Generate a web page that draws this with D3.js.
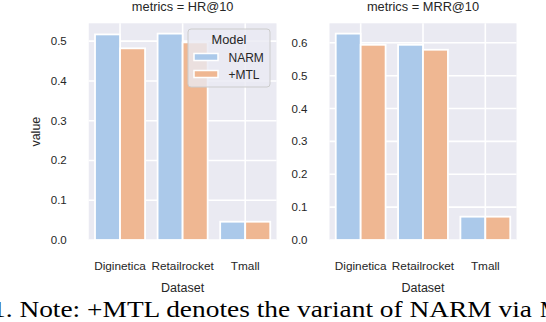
<!DOCTYPE html>
<html>
<head>
<meta charset="utf-8">
<script src="https://cdnjs.cloudflare.com/ajax/libs/d3/7.8.5/d3.min.js"></script>
<style>
body { margin: 0; background: #fff; }
text { font-family: "Liberation Sans", Arial, sans-serif; fill: #262626; }
</style>
</head>
<body>
<div id="chart"></div>
<script>
var datasets = ["Diginetica", "Retailrocket", "Tmall"];
var models = ["NARM", "+MTL"];
var metricNames = ["HR@10", "MRR@10"];
var hrNARM = [0.517, 0.519, 0.046];
var hrMTL = [0.482, 0.497, 0.046];
var mrrNARM = [0.628, 0.594, 0.071];
var mrrMTL = [0.594, 0.579, 0.071];
var hrTicks = [0, 0.1, 0.2, 0.3, 0.4, 0.5];
var mrrTicks = [0, 0.1, 0.2, 0.3, 0.4, 0.5, 0.6];
var colors = ["#abc9ea", "#efb792"];

var svg = d3.select("#chart")
  .append("svg")
    .attr("width", 546)
    .attr("height", 322);

var panels = [
	{ name: metricNames[0], series: [hrNARM, hrMTL], ticks: hrTicks, x0: 88.75, x1: 276.5, ylabel: true },
	{ name: metricNames[1], series: [mrrNARM, mrrMTL], ticks: mrrTicks, x0: 329.5, x1: 516.5, ylabel: false }
];
var plotTop = 23.3, plotBottom = 240;

panels.forEach(function(p) {
	var ymax = d3.max(p.series, function(s) { return d3.max(s); }) * 1.05;
	var x = d3.scaleBand().domain(datasets).range([p.x0, p.x1]).padding(0);
	var inner = d3.scaleBand().domain(models)
	    .range([0, x.bandwidth() * 0.8]);
	var y = d3.scaleLinear().domain([0, ymax]).range([plotBottom, plotTop]);

	var g = svg.append("g");
	g.append("rect")
	    .attr("x", p.x0)
	    .attr("y", plotTop)
	    .attr("width", p.x1 - p.x0)
	    .attr("height", plotBottom - plotTop)
	    .style("fill", "#eaeaf2");

	//grid
	g.selectAll(".hgrid")
	    .data(p.ticks)
	  .enter().append("line")
	    .attr("x1", p.x0)
	    .attr("x2", p.x1)
	    .attr("y1", function(d) { return y(d); })
	    .attr("y2", function(d) { return y(d); })
	    .style("stroke", "#fff")
	    .style("stroke-width", "1.6px");
	g.selectAll(".vgrid")
	    .data(datasets)
	  .enter().append("line")
	    .attr("x1", function(d) { return x(d) + x.bandwidth() / 2; })
	    .attr("x2", function(d) { return x(d) + x.bandwidth() / 2; })
	    .attr("y1", plotTop)
	    .attr("y2", plotBottom)
	    .style("stroke", "#fff")
	    .style("stroke-width", "1.6px");

	//bars
	models.forEach(function(m, mi) {
		g.selectAll(".bar" + mi)
		    .data(p.series[mi])
		  .enter().append("rect")
		    .attr("x", function(d, i) { return x(datasets[i]) + x.bandwidth() * 0.1 + inner(m); })
		    .attr("y", function(d) { return y(d); })
		    .attr("width", inner.bandwidth())
		    .attr("height", function(d) { return plotBottom - y(d); })
		    .style("fill", colors[mi])
		    .style("stroke", "#fff")
		    .style("stroke-width", "1.8px");
	});

	//y tick labels
	g.selectAll(".ytick")
	    .data(p.ticks)
	  .enter().append("text")
	    .attr("x", p.x0 - 22)
	    .attr("y", function(d) { return y(d) + 4; })
	    .attr("text-anchor", "end")
	    .style("font-size", "11.5px")
	    .text(function(d) { return d3.format(".1f")(d); });

	//x tick labels
	g.selectAll(".xtick")
	    .data(datasets)
	  .enter().append("text")
	    .attr("x", function(d) { return x(d) + x.bandwidth() / 2; })
	    .attr("y", 269.5)
	    .attr("text-anchor", "middle")
	    .style("font-size", "11.8px")
	    .text(function(d) { return d; });

	g.append("text")
	    .attr("x", (p.x0 + p.x1) / 2)
	    .attr("y", 291.5)
	    .attr("text-anchor", "middle")
	    .style("font-size", "12.5px")
	    .text("Dataset");

	g.append("text")
	    .attr("x", (p.x0 + p.x1) / 2)
	    .attr("y", 11)
	    .attr("text-anchor", "middle")
	    .style("font-size", "12.8px")
	    .text("metrics = " + p.name);

	if (p.ylabel) {
		g.append("text")
		    .attr("transform", "translate(39.5," + (plotTop + plotBottom) / 2 + ") rotate(-90)")
		    .attr("text-anchor", "middle")
		    .style("font-size", "12.5px")
		    .text("value");
	}
});

//legend
var legend = svg.append("g");
legend.append("rect")
    .attr("x", 188)
    .attr("y", 29)
    .attr("width", 82)
    .attr("height", 58)
    .attr("rx", 3)
    .style("fill", "#eaeaf2")
    .style("fill-opacity", 0.8)
    .style("stroke", "#cccccc")
    .style("stroke-width", "1px");
legend.append("text")
    .attr("x", 229)
    .attr("y", 44)
    .attr("text-anchor", "middle")
    .style("font-size", "12.8px")
    .text("Model");
models.forEach(function(m, i) {
	legend.append("rect")
	    .attr("x", 194)
	    .attr("y", 53.5 + i * 17)
	    .attr("width", 24)
	    .attr("height", 7)
	    .style("fill", colors[i])
	    .style("stroke", "#fff")
	    .style("stroke-width", "1.5px");
	legend.append("text")
	    .attr("x", 228.5)
	    .attr("y", 61.5 + i * 17)
	    .style("font-size", "12px")
	    .text(m);
});

//caption below the figure
svg.append("text")
    .attr("x", -8)
    .attr("y", 317)
    .attr("textLength", 540)
    .attr("lengthAdjust", "spacingAndGlyphs")
    .style("font-family", "'Liberation Serif', 'Times New Roman', serif")
    .style("font-size", "23px")
    .style("fill", "#000")
    .text("1. Note: +MTL denotes the variant of NARM via");
svg.append("text")
    .attr("x", 540)
    .attr("y", 317)
    .style("font-family", "'Liberation Serif', 'Times New Roman', serif")
    .style("font-size", "23px")
    .style("fill", "#000")
    .text("M");
</script>
</body>
</html>
